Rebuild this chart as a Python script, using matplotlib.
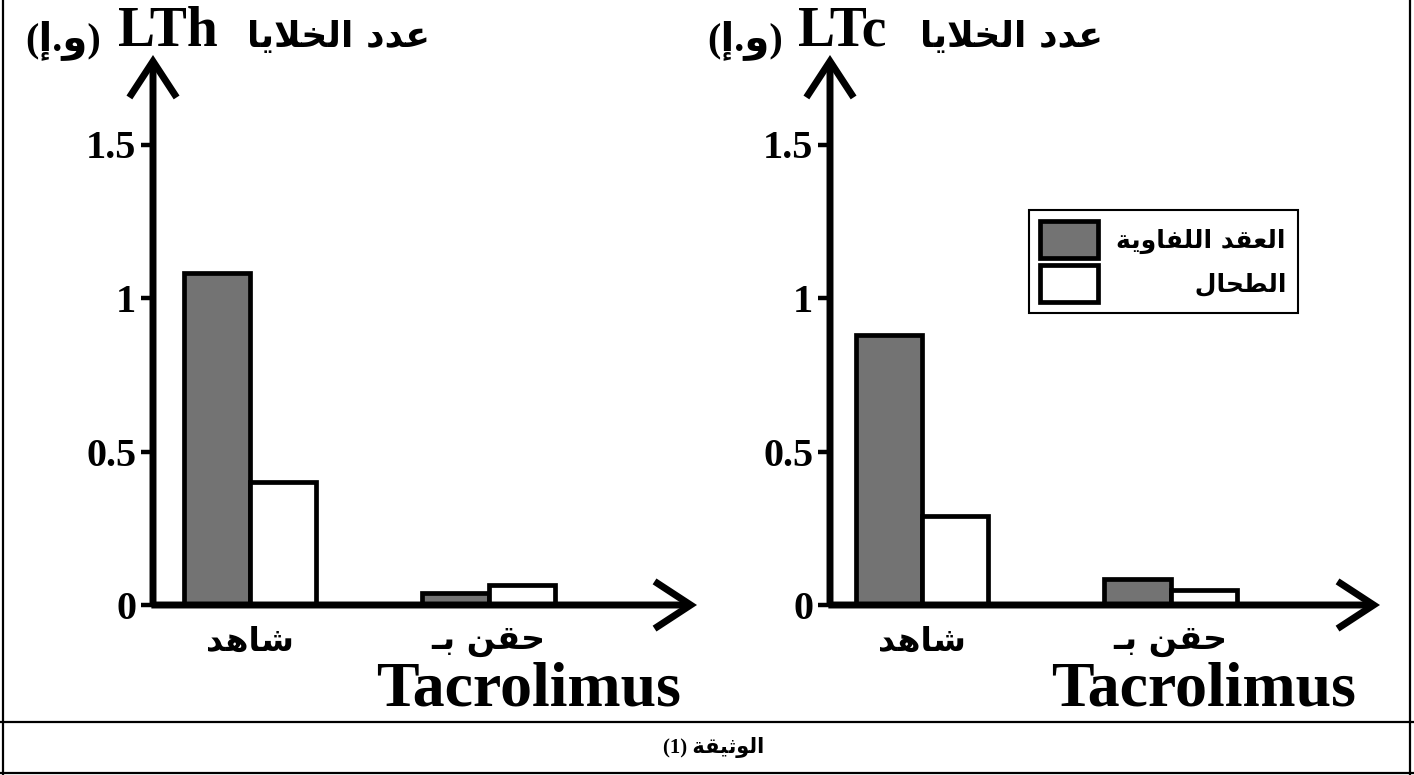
import matplotlib
matplotlib.use("Agg")
import matplotlib.pyplot as plt
from matplotlib.lines import Line2D

# ---------------- data ----------------
categories = ["شاهد", "حقن بـ"]
drug_name = "Tacrolimus"
series_names = ["العقد اللفاوية", "الطحال"]
lth_nodes = [1.08, 0.04]
lth_spleen = [0.40, 0.065]
ltc_nodes = [0.88, 0.085]
ltc_spleen = [0.29, 0.05]
yticks = [0, 0.5, 1, 1.5]
ytick_labels = ["0", "0.5", "1", "1.5"]
title_ar = "عدد الخلايا"
unit_ar = "و.إ"
panel_names = ["LTh", "LTc"]
caption_ar = "الوثيقة"
caption_num = "(1)"

# ---------------- minimal Arabic shaping ----------------
# (isolated, final, initial, medial); None => right-joining only
FORMS = {
    'ا': ('\uFE8D', '\uFE8E', None, None),
    'إ': ('\uFE87', '\uFE88', None, None),
    'ب': ('\uFE8F', '\uFE90', '\uFE91', '\uFE92'),
    'ة': ('\uFE93', '\uFE94', None, None),
    'ث': ('\uFE99', '\uFE9A', '\uFE9B', '\uFE9C'),
    'ح': ('\uFEA1', '\uFEA2', '\uFEA3', '\uFEA4'),
    'خ': ('\uFEA5', '\uFEA6', '\uFEA7', '\uFEA8'),
    'د': ('\uFEA9', '\uFEAA', None, None),
    'ش': ('\uFEB5', '\uFEB6', '\uFEB7', '\uFEB8'),
    'ط': ('\uFEC1', '\uFEC2', '\uFEC3', '\uFEC4'),
    'ع': ('\uFEC9', '\uFECA', '\uFECB', '\uFECC'),
    'ف': ('\uFED1', '\uFED2', '\uFED3', '\uFED4'),
    'ق': ('\uFED5', '\uFED6', '\uFED7', '\uFED8'),
    'ل': ('\uFEDD', '\uFEDE', '\uFEDF', '\uFEE0'),
    'ن': ('\uFEE5', '\uFEE6', '\uFEE7', '\uFEE8'),
    'ه': ('\uFEE9', '\uFEEA', '\uFEEB', '\uFEEC'),
    'و': ('\uFEED', '\uFEEE', None, None),
    'ي': ('\uFEF1', '\uFEF2', '\uFEF3', '\uFEF4'),
    'ـ': ('\u0640', '\u0640', '\u0640', '\u0640'),
}
LAMALEF = {'ا': ('\uFEFB', '\uFEFC'), 'إ': ('\uFEF9', '\uFEFA')}


def dual(c):
    return c in FORMS and FORMS[c][2] is not None


def shape(s):
    units = []
    i = 0
    while i < len(s):
        if s[i] == 'ل' and i + 1 < len(s) and s[i + 1] in LAMALEF:
            units.append(('LA', s[i + 1]))
            i += 2
        else:
            units.append(('C', s[i]))
            i += 1
    out = []
    for k, (kind, c) in enumerate(units):
        prev = units[k - 1] if k > 0 else None
        nxt = units[k + 1] if k + 1 < len(units) else None
        pj = prev is not None and prev[0] == 'C' and dual(prev[1])
        if kind == 'LA':
            out.append(LAMALEF[c][1] if pj else LAMALEF[c][0])
            continue
        if c not in FORMS:
            out.append(c)
            continue
        nj = dual(c) and nxt is not None and (nxt[0] == 'LA' or nxt[1] in FORMS)
        iso, fin, ini, med = FORMS[c]
        if pj and nj:
            out.append(med)
        elif pj:
            out.append(fin)
        elif nj:
            out.append(ini)
        else:
            out.append(iso)
    return ''.join(out)[::-1]


FAM = ['Liberation Serif', 'DejaVu Sans']
ARFAM = ['DejaVu Sans']
GRAY = '#737373'

W, H = 1414, 775
fig = plt.figure(figsize=(W / 100, H / 100), dpi=100)


def fx(px):
    return px / W


def fy(py):
    return 1 - py / H


panels = [
    dict(left=153, right=697, xmax=8.2, centers=[1.46, 5.06], nodes=lth_nodes, spleen=lth_spleen,
         name=panel_names[0], t_unit=25, t_name=118, t_ar_right=430, legend=False, tac_off=0.6),
    dict(left=830, right=1380, xmax=8.3, centers=[1.39, 5.14], nodes=ltc_nodes, spleen=ltc_spleen,
         name=panel_names[1], t_unit=707, t_name=798, t_ar_right=1103, legend=True, tac_off=0.5),
]

zero_y, top_y = 605, 55
ytop = (zero_y - top_y) / 307.0

for p in panels:
    ax = fig.add_axes([fx(p['left']), fy(zero_y), fx(p['right'] - p['left']), (zero_y - top_y) / H])
    ax.set_xlim(0, p['xmax'])
    ax.set_ylim(0, ytop)
    for s in ax.spines.values():
        s.set_visible(False)
    ax.patch.set_alpha(0)
    c = p['centers']
    ax.bar([x - 0.5 for x in c], p['nodes'], width=1.0, color=GRAY, edgecolor='black', linewidth=3.4,
           label=shape(series_names[0]), zorder=3)
    ax.bar([x + 0.5 for x in c], p['spleen'], width=1.0, color='white', edgecolor='black', linewidth=3.4,
           label=shape(series_names[1]), zorder=3)
    ap = dict(arrowstyle='->,head_length=1.3,head_width=0.85', lw=5, color='black',
              shrinkA=0, shrinkB=0, mutation_scale=20, joinstyle='miter', capstyle='butt')
    ax.annotate('', xy=(1, 0), xytext=(-0.003, 0), xycoords='axes fraction', arrowprops=ap, zorder=5,
                annotation_clip=False)
    ax.annotate('', xy=(0, 1), xytext=(0, 0), xycoords='axes fraction', arrowprops=ap, zorder=5,
                annotation_clip=False)
    ax.set_yticks(yticks)
    ax.set_yticklabels(ytick_labels, fontfamily=FAM, fontweight='bold', fontsize=29)
    ax.tick_params(axis='y', length=9, width=3.2, direction='out', pad=3)
    ax.set_xticks(c)
    ax.set_xticklabels([shape(t) for t in categories], fontfamily=ARFAM, fontweight='bold', fontsize=24)
    ax.tick_params(axis='x', length=0, pad=14)
    ax.text(c[1] + p['tac_off'], -0.155, drug_name, transform=ax.get_xaxis_transform(), ha='center',
            va='center', fontfamily=FAM, fontweight='bold', fontsize=46)
    # title pieces
    fig.text(fx(p['t_unit']), fy(50), "(" + shape(unit_ar) + ")", ha='left', va='baseline',
             fontfamily=FAM, fontweight='bold', fontsize=29)
    fig.text(fx(p['t_name']), fy(46), p['name'], ha='left', va='baseline',
             fontfamily=FAM, fontweight='bold', fontsize=40)
    fig.text(fx(p['t_ar_right']), fy(47), shape(title_ar), ha='right', va='baseline',
             fontfamily=ARFAM, fontweight='bold', fontsize=26)
    if p['legend']:
        labels = [shape(n) for n in series_names]
        # right-align the shorter label (RTL text) by left-padding with spaces
        r = fig.canvas.get_renderer()
        widths = []
        for lab in labels + [' ' * 10]:
            t = fig.text(0, 0, lab, fontfamily=ARFAM, fontweight='bold', fontsize=18)
            widths.append(t.get_window_extent(r).width)
            t.remove()
        sp = widths[2] / 10.0
        maxw = max(widths[:2])
        labels = [' ' * int(round((maxw - w) / sp)) + lab for lab, w in zip(labels, widths[:2])]
        handles = ax.containers
        leg = ax.legend(handles, labels, loc='upper right', bbox_to_anchor=(fx(1298), fy(210)),
                        bbox_transform=fig.transFigure,
                        markerfirst=True, frameon=True, fancybox=False, edgecolor='black', framealpha=1,
                        borderaxespad=0, handlelength=2.3, handleheight=1.9, handletextpad=0.75,
                        labelspacing=0.25, borderpad=0.45,
                        prop=dict(family=ARFAM, weight='bold', size=18))
        leg.get_frame().set_linewidth(1.5)

# caption and table frame
fig.text(fx(714), fy(748), caption_num + " " + shape(caption_ar), ha='center', va='center',
         fontfamily=FAM, fontweight='bold', fontsize=15)
for (x0, y0, x1, y1) in [(3, 0, 3, 775), (1410, 0, 1410, 775), (0, 722, 1414, 722), (0, 773, 1414, 773)]:
    fig.add_artist(Line2D([fx(x0), fx(x1)], [fy(y0), fy(y1)], color='black', lw=1.6))

fig.savefig('out.png', dpi=100)
